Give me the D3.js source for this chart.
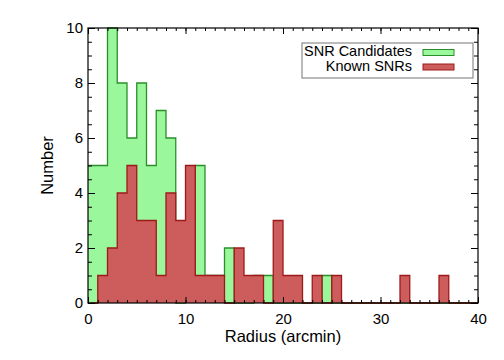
<!DOCTYPE html>
<html>
<head>
<meta charset="utf-8">
<script src="https://cdn.jsdelivr.net/npm/d3@7"></script>
<style>
  html, body { margin: 0; padding: 0; background: #fff; }
  svg { display: block; }
  text { font-family: "Liberation Sans", Arial, Helvetica, sans-serif; fill: #000; }
</style>
</head>
<body>
<svg id="chart" width="504" height="360"></svg>
<script>
// ---- data (1-arcmin bins starting at 0) ----
const binEdges = d3.range(0, 41);            // 0..40 arcmin
const seriesNames = ["SNR Candidates", "Known SNRs"];
const candidateCounts = [5,5,10,8,6,8,5,7,6,0, 1,5,1,1,2,0,0,1,1,0, 0,0,0,0,1,0,0,0,0,0, 0,0,0,0,0,0,0,0,0,0];
const knownCounts     = [0,1,2,4,5,3,3,1,4,3, 5,1,1,1,0,2,1,1,0,3, 1,1,0,1,0,1,0,0,0,0, 0,0,1,0,0,0,1,0,0,0];
const xTickValues = [0, 10, 20, 30, 40];
const yTickValues = [0, 2, 4, 6, 8, 10];
const xLabel = "Radius (arcmin)";
const yLabel = "Number";

// ---- layout ----
const svg = d3.select("#chart");
const L = 88, R = 478, T = 28, B = 303;
const x = d3.scaleLinear().domain([0, 40]).range([L, R]);
const y = d3.scaleLinear().domain([0, 10]).range([B, T]);

const styles = [
  { fill: "#9bf79b", stroke: "#2a8f2a" },
  { fill: "#cd5c5c", stroke: "#9e1a1a" }
];

function stepPoints(counts) {
  return binEdges.map((e, i) => [e, counts[Math.min(i, counts.length - 1)]]);
}

const area = d3.area().curve(d3.curveStepAfter)
  .x(d => x(d[0])).y0(y(0)).y1(d => y(d[1]));
const line = d3.line().curve(d3.curveStepAfter)
  .x(d => x(d[0])).y(d => y(d[1]));

[candidateCounts, knownCounts].forEach((counts, i) => {
  const pts = stepPoints(counts);
  svg.append("path").attr("d", area(pts))
    .attr("fill", styles[i].fill).attr("stroke", "none");
  svg.append("path").attr("d", line(pts))
    .attr("fill", "none").attr("stroke", styles[i].stroke)
    .attr("stroke-width", 1.3);
});

// ---- axes ----
function styleAxis(g) {
  g.select(".domain").remove();
  g.selectAll(".tick line").attr("stroke", "#000").attr("stroke-width", 1);
}
const xMinor = d3.range(0, 41, 1);
const yMinor = d3.range(0, 10.01, 0.5);

svg.append("g").attr("transform", `translate(0,${B})`)
  .call(d3.axisBottom(x).tickValues(xMinor).tickSize(-3).tickFormat(""))
  .call(styleAxis);
svg.append("g").attr("transform", `translate(0,${B})`)
  .call(d3.axisBottom(x).tickValues(xTickValues).tickSize(-6).tickPadding(10).tickFormat(d3.format("d")))
  .call(styleAxis)
  .call(g => g.selectAll("text").attr("font-size", 15));
svg.append("g").attr("transform", `translate(0,${T})`)
  .call(d3.axisTop(x).tickValues(xMinor).tickSize(-3).tickFormat(""))
  .call(styleAxis);
svg.append("g").attr("transform", `translate(0,${T})`)
  .call(d3.axisTop(x).tickValues(xTickValues).tickSize(-6).tickFormat(""))
  .call(styleAxis);

svg.append("g").attr("transform", `translate(${L},0)`)
  .call(d3.axisLeft(y).tickValues(yMinor).tickSize(-4).tickFormat(""))
  .call(styleAxis);
svg.append("g").attr("transform", `translate(${L},0)`)
  .call(d3.axisLeft(y).tickValues(yTickValues).tickSize(-7).tickPadding(5).tickFormat(d3.format("d")))
  .call(styleAxis)
  .call(g => g.selectAll("text").attr("font-size", 15));
svg.append("g").attr("transform", `translate(${R},0)`)
  .call(d3.axisRight(y).tickValues(yMinor).tickSize(-4).tickFormat(""))
  .call(styleAxis);
svg.append("g").attr("transform", `translate(${R},0)`)
  .call(d3.axisRight(y).tickValues(yTickValues).tickSize(-7).tickFormat(""))
  .call(styleAxis);

// frame
svg.append("rect").attr("x", L).attr("y", T).attr("width", R - L).attr("height", B - T)
  .attr("fill", "none").attr("stroke", "#000").attr("stroke-width", 1.2);

// axis titles
svg.append("text").attr("x", (L + R) / 2).attr("y", 342)
  .attr("text-anchor", "middle").attr("font-size", 16.5).text(xLabel);
svg.append("text").attr("transform", `translate(53,${(T + B) / 2}) rotate(-90)`)
  .attr("text-anchor", "middle").attr("font-size", 16.5).text(yLabel);

// ---- legend ----
const lg = svg.append("g");
lg.append("rect").attr("x", 302).attr("y", 43).attr("width", 171).attr("height", 35)
  .attr("fill", "#fff").attr("stroke", "#777").attr("stroke-width", 1);
seriesNames.forEach((name, i) => {
  const yy = 56 + i * 14.5;
  lg.append("text").attr("x", 412).attr("y", yy).attr("text-anchor", "end")
    .attr("font-size", 14.5).text(name);
  lg.append("rect").attr("x", 423).attr("y", yy - 6.5).attr("width", 31).attr("height", 6)
    .attr("fill", styles[i].fill).attr("stroke", styles[i].stroke).attr("stroke-width", 1);
});
</script>
</body>
</html>
